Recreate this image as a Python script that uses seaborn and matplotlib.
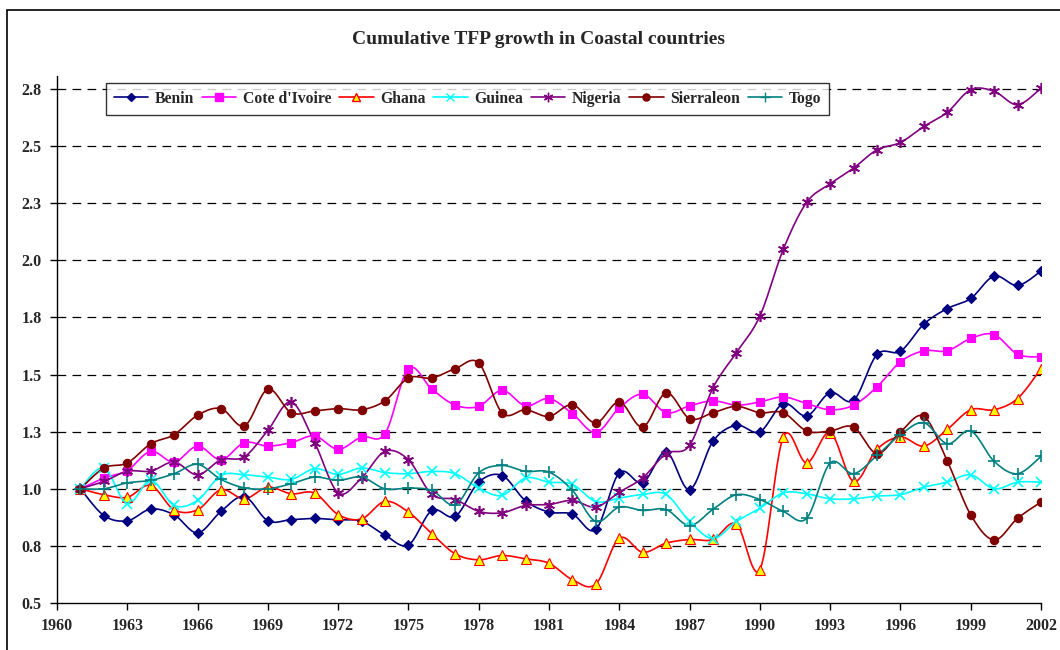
import numpy as np
import seaborn as sns
import matplotlib.pyplot as plt
from matplotlib.lines import Line2D
from matplotlib.patches import Rectangle

years = list(range(1961, 2003))

benin = [1.0, 0.883, 0.860, 0.911, 0.886, 0.807, 0.901, 0.966, 0.860, 0.865, 0.870, 0.864, 0.858, 0.797,
         0.754, 0.905, 0.879, 1.029, 1.058, 0.947, 0.898, 0.889, 0.822, 1.070, 1.026, 1.161, 0.996, 1.208,
         1.278, 1.249, 1.373, 1.319, 1.421, 1.387, 1.588, 1.602, 1.721, 1.789, 1.833, 1.931, 1.890, 1.953]
cote = [1.0, 1.047, 1.080, 1.164, 1.117, 1.187, 1.127, 1.202, 1.187, 1.202, 1.231, 1.173, 1.227, 1.241,
        1.526, 1.436, 1.366, 1.361, 1.431, 1.363, 1.395, 1.329, 1.246, 1.354, 1.414, 1.333, 1.363, 1.385,
        1.366, 1.380, 1.402, 1.373, 1.346, 1.366, 1.446, 1.556, 1.604, 1.604, 1.658, 1.675, 1.589, 1.577]
ghana = [1.0, 0.974, 0.963, 1.015, 0.908, 0.908, 0.996, 0.956, 1.007, 0.978, 0.981, 0.887, 0.868, 0.945,
         0.898, 0.803, 0.715, 0.689, 0.708, 0.693, 0.674, 0.602, 0.583, 0.784, 0.722, 0.762, 0.778, 0.778,
         0.846, 0.646, 1.227, 1.113, 1.246, 1.032, 1.173, 1.227, 1.187, 1.260, 1.346, 1.346, 1.395, 1.526]
guinea = [1.0, 1.091, 0.934, 1.037, 0.927, 0.949, 1.058, 1.061, 1.051, 1.041, 1.088, 1.063, 1.091, 1.071,
          1.066, 1.076, 1.066, 1.003, 0.971, 1.047, 1.029, 1.019, 0.944, 0.959, 0.975, 0.975, 0.857, 0.782,
          0.857, 0.915, 0.982, 0.978, 0.956, 0.956, 0.968, 0.974, 1.007, 1.029, 1.061, 1.0, 1.029, 1.029]
nigeria = [1.0, 1.032, 1.077, 1.077, 1.117, 1.061, 1.127, 1.140, 1.256, 1.380, 1.202, 0.982, 1.048, 1.164,
           1.127, 0.975, 0.953, 0.901, 0.895, 0.927, 0.931, 0.949, 0.920, 0.985, 1.048, 1.154, 1.190, 1.442,
           1.596, 1.756, 2.048, 2.254, 2.335, 2.404, 2.484, 2.516, 2.586, 2.648, 2.747, 2.740, 2.681, 2.754]
sierra = [1.0, 1.091, 1.113, 1.197, 1.237, 1.322, 1.351, 1.275, 1.436, 1.333, 1.341, 1.351, 1.346, 1.385,
          1.485, 1.485, 1.526, 1.551, 1.332, 1.346, 1.317, 1.368, 1.288, 1.380, 1.270, 1.420, 1.307, 1.333,
          1.361, 1.333, 1.333, 1.253, 1.253, 1.270, 1.154, 1.249, 1.317, 1.121, 0.886, 0.776, 0.871, 0.942]
togo = [1.0, 1.0, 1.026, 1.037, 1.066, 1.107, 1.041, 1.004, 1.0, 1.022, 1.051, 1.037, 1.051, 1.0,
        1.003, 0.993, 0.930, 1.070, 1.102, 1.076, 1.073, 0.993, 0.857, 0.920, 0.905, 0.909, 0.839, 0.910,
        0.974, 0.953, 0.901, 0.871, 1.113, 1.066, 1.146, 1.237, 1.289, 1.197, 1.253, 1.120, 1.066, 1.142]

names = ["Benin", "Cote d'Ivoire", "Ghana", "Guinea", "Nigeria", "Sierraleon", "Togo"]
series = [benin, cote, ghana, guinea, nigeria, sierra, togo]

xticks = list(range(1960, 2003, 3))
yticks = [0.5, 0.75, 1.0, 1.25, 1.5, 1.75, 2.0, 2.25, 2.5, 2.75]
ytick_labels = ["0.5", "0.8", "1.0", "1.3", "1.5", "1.8", "2.0", "2.3", "2.5", "2.8"]

# style per series: colour, marker, marker size, face colour
styles = [
    ("#000080", "D", 5, "#000080"),
    ("#FF00FF", "s", 6, "#FF00FF"),
    ("#FF0000", "^", 7, "#FFFF00"),
    ("#00FFFF", "x", 7, "#00FFFF"),
    ("#800080", (6, 2, 0), 8, "#800080"),
    ("#800000", "o", 6, "#800000"),
    ("#008080", "+", 8, "#008080"),
]


def smooth(x, y, n=12):
    # Excel-like smoothed line (Catmull-Rom bezier between the points)
    x = np.asarray(x, float)
    y = np.asarray(y, float)
    px = np.concatenate([[x[0]], x, [x[-1]]])
    py = np.concatenate([[y[0]], y, [y[-1]]])
    t = np.linspace(0, 1, n, endpoint=False)
    xs, ys = [], []
    for i in range(1, len(px) - 2):
        p0x, p1x, p2x, p3x = px[i - 1:i + 3]
        p0y, p1y, p2y, p3y = py[i - 1:i + 3]
        c1x, c1y = p1x + (p2x - p0x) / 6, p1y + (p2y - p0y) / 6
        c2x, c2y = p2x - (p3x - p1x) / 6, p2y - (p3y - p1y) / 6
        b0, b1, b2, b3 = (1 - t) ** 3, 3 * t * (1 - t) ** 2, 3 * t ** 2 * (1 - t), t ** 3
        xs.append(b0 * p1x + b1 * c1x + b2 * c2x + b3 * p2x)
        ys.append(b0 * p1y + b1 * c1y + b2 * c2y + b3 * p2y)
    xs.append([x[-1]])
    ys.append([y[-1]])
    return np.concatenate(xs), np.concatenate(ys)


sns.set_style("white")
plt.rcParams["font.family"] = ["Liberation Serif", "DejaVu Serif"]
plt.rcParams["font.weight"] = "bold"

fig = plt.figure(figsize=(10.6, 6.5), dpi=100)
fig.patches.append(Rectangle((7 / 1060, -0.1), 1.2, 1.1 - 9.5 / 650, transform=fig.transFigure,
                             fill=False, edgecolor="black", linewidth=1.2))
ax = fig.add_axes([57 / 1060, 1 - 603 / 650, 984 / 1060, 527 / 650])

for name, vals, (col, mk, ms, fc) in zip(names, series, styles):
    sx, sy = smooth(years, vals)
    sns.lineplot(x=sx, y=sy, ax=ax, color=col, linewidth=1.2, sort=False, estimator=None)
    ax.plot(years, vals, linestyle="none", marker=mk, markersize=ms, color=col,
            markerfacecolor=fc, markeredgecolor=col, markeredgewidth=1.2 if mk in ("x", "+", (6, 2, 0)) else 0.8,
            zorder=3)

for yv in yticks[1:]:
    ax.axhline(yv, color="black", linewidth=0.9, dashes=(7, 5), zorder=0)

ax.set_xlim(1960, 2002)
ax.set_ylim(0.5, 2.807)
ax.set_xticks(xticks)
ax.set_xticklabels([str(v) for v in xticks], fontsize=11.5, fontweight="bold")
ax.set_yticks(yticks)
ax.set_yticklabels(ytick_labels, fontsize=11.5, fontweight="bold")
ax.tick_params(axis="both", direction="out", length=5, width=1, color="black", pad=6, bottom=True, left=True)
for side in ["top", "right"]:
    ax.spines[side].set_visible(False)
for side in ["left", "bottom"]:
    ax.spines[side].set_color("black")
    ax.spines[side].set_linewidth(1)
ax.set_xlabel("")
ax.set_ylabel("")

fig.text(538 / 1060, 1 - 40 / 650, "Cumulative TFP growth in Coastal countries", ha="center", va="center",
         fontsize=14, fontweight="bold")

handles = [Line2D([], [], color=col, marker=mk, markersize=ms * 0.85, markerfacecolor=fc, markeredgecolor=col,
                  linewidth=1.2) for col, mk, ms, fc in styles]
leg = ax.legend(handles, names, ncol=7, loc="upper left", bbox_to_anchor=(49 / 984, 1 - 7 / 527),
                frameon=True, fancybox=False, edgecolor="black", handlelength=2.2, handletextpad=0.4,
                columnspacing=0.5, borderpad=0.5, borderaxespad=0, prop={"weight": "bold", "size": 11.3})
leg.get_frame().set_linewidth(1)

plt.savefig("out.png", dpi=100)
plt.close()
